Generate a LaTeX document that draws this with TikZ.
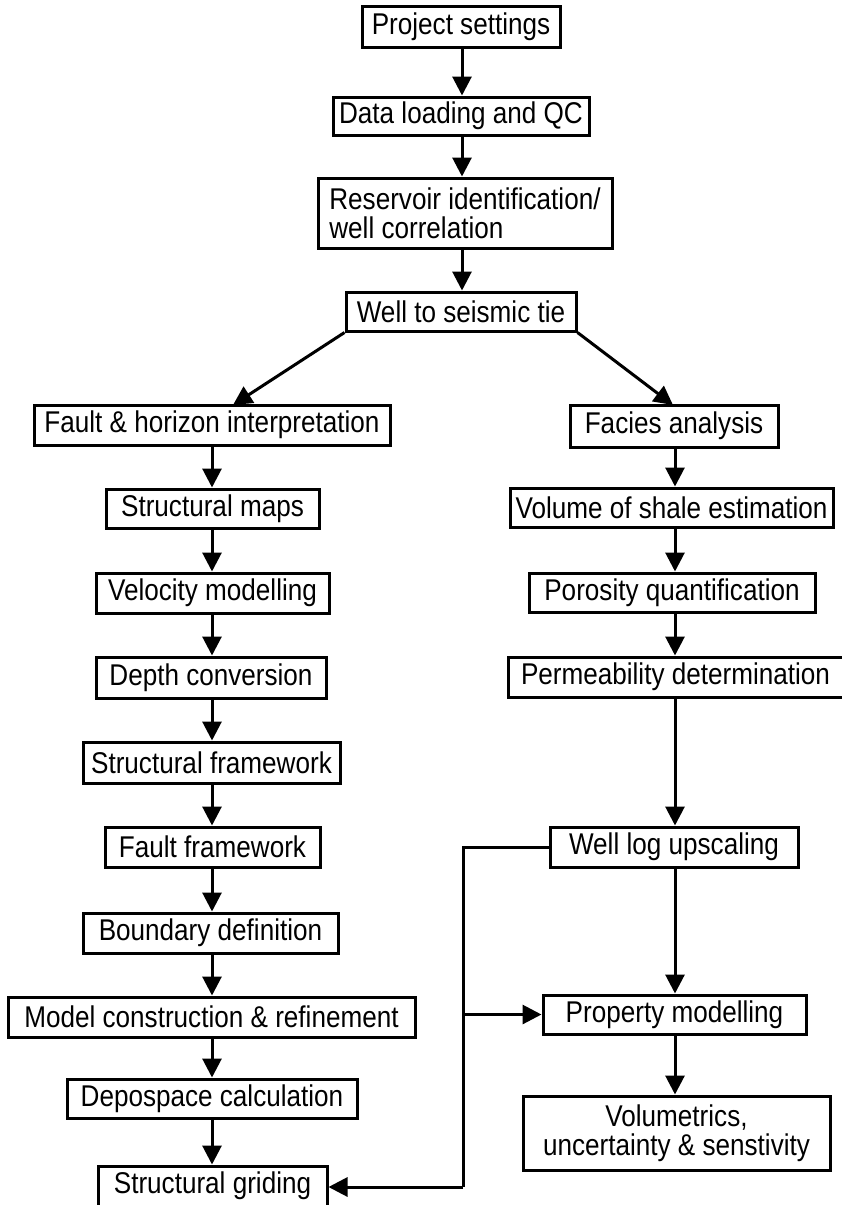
\documentclass[tikz,border=0pt]{standalone}
\usepackage{fontspec}
\setmainfont{Liberation Sans}[FakeStretch=0.87]
\usetikzlibrary{arrows.meta}
\begin{document}
\begin{tikzpicture}[x=1pt,y=-1pt,
  box/.style={draw, line width=3pt, inner sep=0pt, font=\fontsize{30}{29}\selectfont},
  arr/.style={line width=3pt, -{Triangle[width=19pt,length=19pt]}},
  ln/.style={line width=3pt}]
\useasboundingbox (0,0) rectangle (842,1205);
% top column
\node[box, minimum width=198pt, minimum height=41pt] (ps) at (461,26.5) {Project settings};
\node[box, minimum width=256pt, minimum height=38pt] (dl) at (461,116) {Data loading and QC};
\node[box, minimum width=294pt, minimum height=70pt, align=left] (rw) at (465,213) {Reservoir identification/\\well correlation};
\node[box, minimum width=230pt, minimum height=39pt] (wst) at (461,311.5) {Well to seismic tie};
% left column
\node[box, minimum width=356pt, minimum height=40pt] (fh) at (212,425) {Fault \& horizon interpretation};
\node[box, minimum width=213pt, minimum height=39pt] (sm) at (212.5,508.5) {Structural maps};
\node[box, minimum width=233pt, minimum height=40pt] (vm) at (212.5,593) {Velocity modelling};
\node[box, minimum width=230pt, minimum height=41pt] (dc) at (211,677.5) {Depth conversion};
\node[box, minimum width=257pt, minimum height=41pt] (sf) at (211.5,762.5) {Structural framework};
\node[box, minimum width=215pt, minimum height=40pt] (ff) at (212.5,847) {Fault framework};
\node[box, minimum width=255pt, minimum height=40pt] (bd) at (210.5,933) {Boundary definition};
\node[box, minimum width=407pt, minimum height=40pt] (mc) at (211.5,1017) {Model construction \& refinement};
\node[box, minimum width=290pt, minimum height=39pt] (dsp) at (212,1098.5) {Depospace calculation};
\node[box, minimum width=229pt, minimum height=40pt] (sg) at (212.5,1186) {Structural griding};
% right column
\node[box, minimum width=208pt, minimum height=42pt] (fa) at (674,426) {Facies analysis};
\node[box, minimum width=323pt, minimum height=39pt] (vs) at (671.5,507.5) {Volume of shale estimation};
\node[box, minimum width=286pt, minimum height=39pt] (pq) at (672,592.5) {Porosity quantification};
\node[box, minimum width=335pt, minimum height=40pt] (pd) at (675.5,677) {Permeability determination};
\node[box, minimum width=248pt, minimum height=40pt] (wlu) at (674,847) {Well log upscaling};
\node[box, minimum width=263pt, minimum height=39pt] (pm) at (674.5,1014.5) {Property modelling};
\node[box, minimum width=307pt, minimum height=74pt, align=center] (vol) at (676.5,1133) {Volumetrics,\\uncertainty \& senstivity};
% column axes
\coordinate (T) at (462,0);
\coordinate (L) at (212,0);
\coordinate (R) at (675,0);
% top arrows
\draw[arr] (ps.south -| T) -- (dl.north -| T);
\draw[arr] (dl.south -| T) -- (rw.north -| T);
\draw[arr] (rw.south -| T) -- (wst.north -| T);
% split
\coordinate (ltip) at (233,405);
\coordinate (rtip) at (673,405);
\draw[arr] (wst.south west) -- (ltip);
\draw[arr] (wst.south east) -- (rtip);
% left chain
\draw[arr] (fh.south -| L) -- (sm.north -| L);
\draw[arr] (sm.south -| L) -- (vm.north -| L);
\draw[arr] (vm.south -| L) -- (dc.north -| L);
\draw[arr] (dc.south -| L) -- (sf.north -| L);
\draw[arr] (sf.south -| L) -- (ff.north -| L);
\draw[arr] (ff.south -| L) -- (bd.north -| L);
\draw[arr] (bd.south -| L) -- (mc.north -| L);
\draw[arr] (mc.south -| L) -- (dsp.north -| L);
\draw[arr] (dsp.south -| L) -- (sg.north -| L);
% right chain
\draw[arr] (fa.south -| R) -- (vs.north -| R);
\draw[arr] (vs.south -| R) -- (pq.north -| R);
\draw[arr] (pq.south -| R) -- (pd.north -| R);
\draw[arr] (pd.south -| R) -- (wlu.north -| R);
\draw[arr] (wlu.south -| R) -- (pm.north -| R);
\draw[arr] (pm.south -| R) -- (vol.north -| R);
% feedback connector
\coordinate (jt) at (463,847);
\coordinate (jm) at (463,1014.5);
\coordinate (jb) at (463,1187);
\draw[ln, line join=miter] (wlu.west) -- (jt) -- (jb);
\draw[arr] (jb) -- (sg.east |- jb);
\draw[arr] (jm) -- (pm.west);
\end{tikzpicture}
\end{document}
